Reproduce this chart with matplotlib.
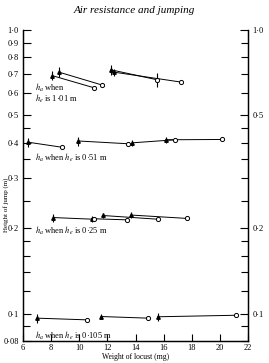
import numpy as np
import matplotlib
matplotlib.use("Agg")
import matplotlib.pyplot as plt
from matplotlib.ticker import FixedLocator, NullLocator

plt.rcParams['font.family'] = ['Liberation Serif', 'DejaVu Serif']
plt.rcParams['mathtext.fontset'] = 'stix'

# ---- data ----
# h_e = 1.01 m
g1_tri_x = [8.09, 8.56, 12.24, 12.47]
g1_tri_y = [0.69, 0.71, 0.724, 0.71]
g1_tri_err = [0.025, 0.03, 0.03, 0.02]
g1_circ_x = [11.07, 11.6, 15.5, 17.24]
g1_circ_y = [0.625, 0.64, 0.668, 0.655]
g1_circ_err = [0.0, 0.0, 0.04, 0.0]

# h_e = 0.51 m
g2_tri_x = [6.36, 9.93, 13.78, 16.17]
g2_tri_y = [0.402, 0.406, 0.40, 0.41]
g2_tri_err = [0.015, 0.015, 0.01, 0.01]
g2_circ_x = [8.75, 13.45, 16.81, 20.18]
g2_circ_y = [0.386, 0.397, 0.41, 0.411]

# h_e = 0.25 m
g3_tri_x = [8.16, 10.88, 11.67, 13.68]
g3_tri_y = [0.218, 0.216, 0.2217, 0.2225]
g3_tri_err = [0.007, 0.005, 0.005, 0.006]
g3_circ_x = [11.07, 13.37, 15.62, 17.64]
g3_circ_y = [0.215, 0.214, 0.215, 0.2165]

# h_e = 0.105 m
g4_tri_x = [7.02, 11.55, 15.58]
g4_tri_y = [0.0963, 0.0976, 0.0974]
g4_tri_err = [0.0035, 0.002, 0.003]
g4_circ_x = [10.53, 14.91, 21.15]
g4_circ_y = [0.095, 0.0963, 0.0986]

left_major = [0.08, 0.1, 0.2, 0.3, 0.4, 0.5, 0.6, 0.7, 0.8, 0.9, 1.0]
minor_ticks = [0.09, 0.12, 0.14, 0.16, 0.18, 0.25, 0.35, 0.45]
right_major = [0.1, 0.2, 0.5, 1.0]
right_minor = [0.08, 0.09, 0.12, 0.14, 0.16, 0.18, 0.25, 0.3, 0.35,
               0.4, 0.45, 0.6, 0.7, 0.8, 0.9]
x_ticks = [6, 8, 10, 12, 14, 16, 18, 20, 22]


def fmt(v):
    if v == 0.08:
        return "0·08"
    return ("%.1f" % v).replace(".", "·")


fig = plt.figure(figsize=(2.69, 3.63), dpi=100)
ax = fig.add_axes([0.0855, 0.0606, 0.8365, 0.8568])

groups = [
    (g1_tri_x, g1_tri_y, g1_tri_err, g1_circ_x, g1_circ_y, g1_circ_err),
    (g2_tri_x, g2_tri_y, g2_tri_err, g2_circ_x, g2_circ_y, None),
    (g3_tri_x, g3_tri_y, g3_tri_err, g3_circ_x, g3_circ_y, None),
    (g4_tri_x, g4_tri_y, g4_tri_err, g4_circ_x, g4_circ_y, None),
]

for tx, ty, te, cx, cy, ce in groups:
    for i in range(len(tx)):
        ax.plot([tx[i], cx[i]], [ty[i], cy[i]], color='black', lw=0.7, zorder=2)
    ax.errorbar(tx, ty, yerr=te, fmt='^', color='black', ms=2.5,
                elinewidth=0.8, capsize=0, zorder=3)
    if ce is not None:
        ax.errorbar(cx, cy, yerr=ce, fmt='none', ecolor='black',
                    elinewidth=0.8, capsize=0, zorder=3)
    ax.plot(cx, cy, 'o', mfc='white', mec='black', ms=3, mew=0.7, zorder=4)

ax.set_yscale('log')
ax.set_xlim(6, 22)
ax.set_ylim(0.08, 1.0)

ax.yaxis.set_major_locator(FixedLocator(left_major))
ax.yaxis.set_minor_locator(FixedLocator(minor_ticks))
ax.set_yticklabels([fmt(v) for v in left_major])
ax.yaxis.set_minor_formatter(plt.NullFormatter())
ax.set_xticks(x_ticks)
ax.set_xticklabels([str(v) for v in x_ticks])
ax.xaxis.set_minor_locator(NullLocator())

ax.tick_params(axis='y', which='major', direction='in', length=6, width=0.8,
               labelsize=6, pad=3)
ax.tick_params(axis='y', which='minor', direction='in', length=5, width=0.8)
ax.tick_params(axis='x', direction='in', length=5, width=0.8, labelsize=6, pad=2)

ax2 = ax.twinx()
ax2.set_yscale('log')
ax2.set_ylim(0.08, 1.0)
ax2.yaxis.set_major_locator(FixedLocator(right_major))
ax2.yaxis.set_minor_locator(FixedLocator(right_minor))
ax2.set_yticklabels([fmt(v) for v in right_major])
ax2.yaxis.set_minor_formatter(plt.NullFormatter())
ax2.tick_params(axis='y', which='major', direction='in', length=6, width=0.8,
                labelsize=6, pad=3)
ax2.tick_params(axis='y', which='minor', direction='in', length=5, width=0.8)

for a in (ax, ax2):
    a.spines['top'].set_visible(False)
    for s in ('left', 'right', 'bottom'):
        a.spines[s].set_linewidth(0.9)

ax.text(6.85, 0.627, "$h_a$ when", fontsize=6, va='center')
ax.text(6.85, 0.57, "$h_e$ is 1·01 m", fontsize=6, va='center')
ax.text(6.85, 0.354, "$h_a$ when $h_e$ is 0·51 m", fontsize=6, va='center')
ax.text(6.85, 0.195, "$h_a$ when $h_e$ is 0·25 m", fontsize=6, va='center')
ax.text(6.85, 0.0835, "$h_a$ when $h_e$ is 0·105 m", fontsize=6, va='center')

ax.set_xlabel("Weight of locust (mg)", fontsize=5.5)
ax.xaxis.set_label_coords(0.5, -0.037)
ax.set_ylabel("Height of jump (m)", fontsize=5)
ax.yaxis.set_label_coords(-0.062, 0.437)

fig.text(0.5, 0.972, "Air resistance and jumping", fontsize=8, style='italic',
         ha='center', va='center')

fig.savefig("out.png", dpi=100)
